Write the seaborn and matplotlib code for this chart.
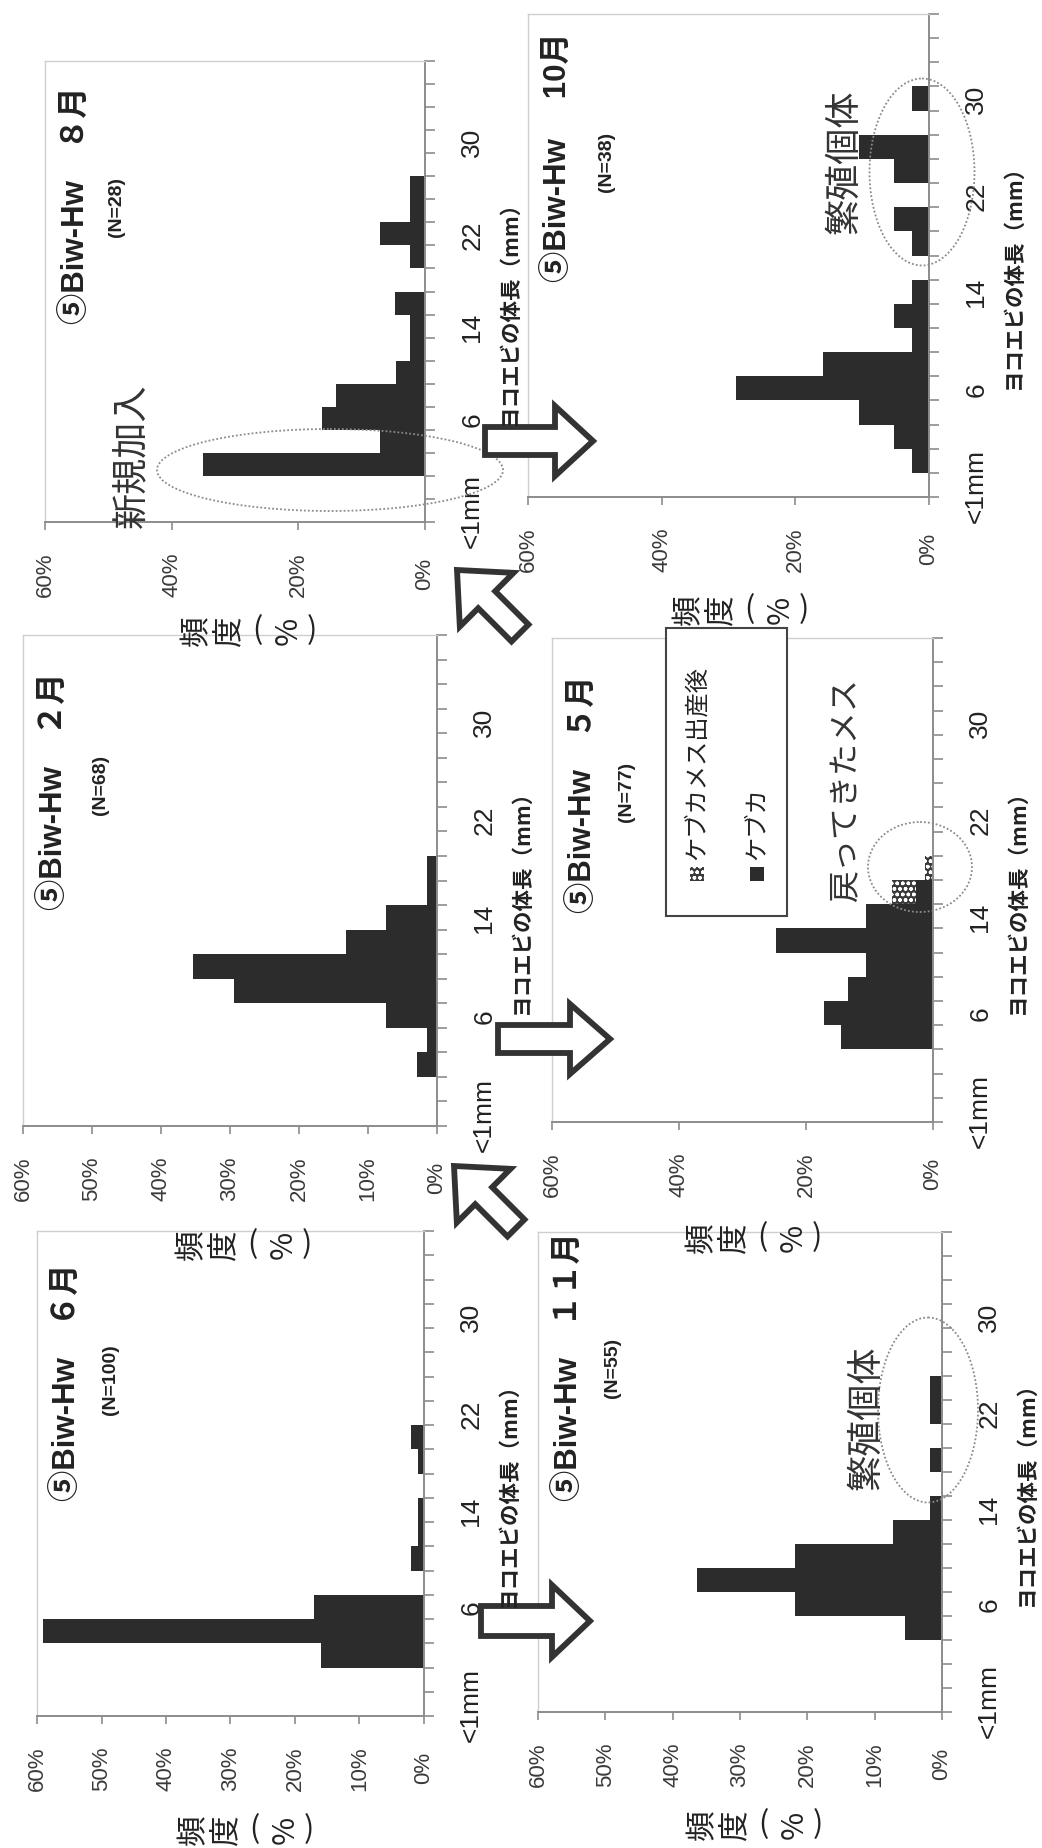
import numpy as np
import pandas as pd
import matplotlib
matplotlib.use("Agg")
import matplotlib.pyplot as plt
import seaborn as sns
from matplotlib.patches import Ellipse, Polygon, Rectangle

sns.set_theme(style="white")
plt.rcParams["font.family"] = ["Liberation Sans", "Noto Sans CJK JP"]

W, H = 1042, 1849
DPI = 100

# body-length classes (category axis) and the classes that carry a label
size_bins = ["<1mm", "1", "2", "4", "6", "8", "10", "12", "14", "16",
             "18", "20", "22", "24", "26", "28", "30", "32", "34", "36"]
labelled_bins = ["<1mm", "6", "14", "22", "30"]

# frequency (%) per size class
freq_aug = [0, 0, 35.0, 7.1, 16.3, 14.1, 4.6, 2.4, 2.4, 4.7,
            0, 2.4, 7.1, 2.4, 2.4, 0, 0, 0, 0, 0]
freq_oct = [0, 2.6, 5.3, 10.5, 28.9, 15.8, 2.6, 5.3, 2.6, 0,
            2.6, 5.3, 0, 5.3, 10.5, 0, 2.6, 0, 0, 0]
freq_feb = [0, 0, 2.9, 1.5, 7.4, 29.4, 35.3, 13.2, 7.4, 1.5,
            1.5, 0, 0, 0, 0, 0, 0, 0, 0, 0]
freq_may = [0, 0, 0, 14.5, 17.2, 13.4, 10.6, 24.8, 10.6, 2.6,
            0, 0, 0, 0, 0, 0, 0, 0, 0, 0]
freq_may_after = [0, 0, 0, 0, 0, 0, 0, 0, 0, 3.9,
                  1.3, 0, 0, 0, 0, 0, 0, 0, 0, 0]
freq_jun = [0, 0, 16, 59, 17, 0, 2, 1, 1, 0,
            1, 2, 0, 0, 0, 0, 0, 0, 0, 0]
freq_nov = [0, 0, 0, 5.5, 21.8, 36.4, 21.8, 7.3, 1.8, 0,
            1.8, 0, 1.8, 1.8, 0, 0, 0, 0, 0, 0]

titles = {"aug": "⑤Biw-Hw　８月", "oct": "⑤Biw-Hw　 10月", "feb": "⑤Biw-Hw　２月",
          "may": "⑤Biw-Hw　５月", "jun": "⑤Biw-Hw　６月", "nov": "⑤Biw-Hw　１１月"}
sample_sizes = {"aug": "(N=28)", "oct": "(N=38)", "feb": "(N=68)",
                "may": "(N=77)", "jun": "(N=100)", "nov": "(N=55)"}
legend_labels = ["ケブカメス出産後", "ケブカ"]

BAR = "#2c2c2c"
AXC = "#8c8c8c"
FRAME = "#cfcfcf"
TXT = "#222222"

# panel geometry in pixels: (x of 60%, x of 0%, top, bottom) and text anchors
layout = [
    dict(key="aug", vals=freq_aug, box=(45, 425, 62, 523), step=20,
         title_xy=(76, 205), n_xy=(117, 207), freq_xy=(250, 631)),
    dict(key="oct", vals=freq_oct, box=(528, 929, 15, 498), step=20,
         title_xy=(558, 157), n_xy=(607, 162), freq_xy=(742, 610)),
    dict(key="feb", vals=freq_feb, box=(23, 437, 636, 1127), step=10,
         title_xy=(54, 791), n_xy=(100, 785), freq_xy=(245, 1245)),
    dict(key="may", vals=freq_may, box=(552, 933, 639, 1123), step=20,
         title_xy=(583, 794), n_xy=(627, 792), freq_xy=(755, 1238)),
    dict(key="jun", vals=freq_jun, box=(37, 424, 1232, 1717), step=10,
         title_xy=(67, 1382), n_xy=(110, 1380), freq_xy=(247, 1830)),
    dict(key="nov", vals=freq_nov, box=(538, 942, 1233, 1713), step=10,
         title_xy=(569, 1367), n_xy=(612, 1368), freq_xy=(756, 1825)),
]

fig = plt.figure(figsize=(W / DPI, H / DPI), dpi=DPI)
fig.patch.set_facecolor("white")


def add_panel(cfg):
    left, right, top, bottom = cfg["box"]
    ax = fig.add_axes([left / W, 1 - bottom / H, (right - left) / W, (bottom - top) / H])
    df = pd.DataFrame({"size": size_bins, "freq": cfg["vals"]})
    if cfg["key"] == "may":
        total = [a + b for a, b in zip(freq_may, freq_may_after)]
        dft = pd.DataFrame({"size": size_bins, "freq": total})
        sns.barplot(data=dft, x="freq", y="size", order=size_bins, orient="h",
                    width=1.0, color="#3a3a3a", saturation=1, linewidth=0,
                    edgecolor="white", hatch="ooo", ax=ax)
    sns.barplot(data=df, x="freq", y="size", order=size_bins, orient="h",
                width=1.0, color=BAR, saturation=1, linewidth=0, ax=ax)
    ax.set_xlim(60, 0)
    ax.set_ylim(-0.5, len(size_bins) - 0.5)
    ax.set_xlabel("")
    ax.set_ylabel("")
    ax.set_facecolor("white")

    # category axis on the right
    pos = [size_bins.index(b) for b in labelled_bins]
    ax.set_yticks(pos)
    ax.set_yticklabels(labelled_bins, rotation=90, ha="center", va="center",
                       fontsize=19, color=TXT)
    ax.set_yticks(np.arange(-0.5, len(size_bins), 1.0), minor=True)
    ax.tick_params(axis="y", which="both", left=False, right=True,
                   labelleft=False, labelright=True)
    ax.tick_params(axis="y", which="major", length=0, pad=34)
    ax.tick_params(axis="y", which="minor", length=7, width=1.2,
                   color=AXC, direction="out")

    # frequency axis at the bottom
    xt = list(range(0, 61, cfg["step"]))
    ax.set_xticks(xt)
    ax.set_xticklabels([f"{v}%" for v in xt], rotation=90, ha="center",
                       va="center", fontsize=16, color="#3a3a3a")
    ax.tick_params(axis="x", which="major", bottom=True, length=6, width=1.2,
                   color=AXC, direction="out", pad=31)

    for side in ("left", "top"):
        ax.spines[side].set_color(FRAME)
        ax.spines[side].set_linewidth(1.0)
    for side in ("right", "bottom"):
        ax.spines[side].set_color(AXC)
        ax.spines[side].set_linewidth(1.4)
    ax.grid(False)
    return ax


for cfg in layout:
    add_panel(cfg)

# overlay in pixel coordinates for titles, notes and arrows
ov = fig.add_axes([0, 0, 1, 1], zorder=10)
ov.set_xlim(0, W)
ov.set_ylim(H, 0)
ov.axis("off")
ov.patch.set_alpha(0)

char_offsets = [-53, -21, 7, 38, 62]
freq_chars = ["頻", "度", "(", "%", ")"]

for cfg in layout:
    left, right, top, bottom = cfg["box"]
    k = cfg["key"]
    tx, ty = cfg["title_xy"]
    ov.text(tx, ty, titles[k], rotation=90, ha="center", va="center",
            fontsize=22.5, fontweight="bold", color=TXT)
    nx, ny = cfg["n_xy"]
    ov.text(nx, ny, sample_sizes[k], rotation=90, ha="center", va="center",
            fontsize=14, fontweight="bold", color=TXT)
    # category axis title
    ov.text(right + 84, (top + bottom) / 2 + 15, "ヨコエビの体長（mm）",
            rotation=90, ha="center", va="center", fontsize=15.5,
            fontweight="bold", color=TXT, family=["Noto Sans CJK JP"])
    # frequency axis title, written vertically in the original orientation
    fx, fy = cfg["freq_xy"]
    for ch, off in zip(freq_chars, char_offsets):
        rot = 0 if ch in "()" else 90
        ov.text(fx + off, fy, ch, rotation=rot, ha="center", va="center",
                fontsize=22, color=TXT, family=["Noto Sans CJK JP"])

# notes and dotted ellipses
notes = [
    ("新規加入", (131, 456), 26, (330, 471, 346, 82)),
    ("繁殖個体", (844, 162), 26, (922, 173, 105, 187)),
    ("繁殖個体", (866, 1418), 26, (928, 1411, 100, 185)),
    ("戻ってきたメス", (846, 790), 23, (920, 868, 104, 90)),
]
for text, (x, y), fs, (ex, ey, ew, eh) in notes:
    ov.text(x, y, text, rotation=90, ha="center", va="center", fontsize=fs,
            color="#333333", family=["Noto Sans CJK JP"])
    ov.add_patch(Ellipse((ex, ey), ew, eh, fill=False, edgecolor="#8a8a8a",
                         linestyle=(0, (1, 1.2)), linewidth=1.3))

# legend of the May panel
ov.add_patch(Rectangle((666, 629), 121, 288, facecolor="white",
                       edgecolor="#444444", linewidth=1.5))
ov.add_patch(Rectangle((690, 868), 14, 14, facecolor="#3a3a3a",
                       edgecolor="white", hatch="ooo", linewidth=0))
ov.add_patch(Rectangle((750, 868), 14, 14, facecolor=BAR, linewidth=0))
ov.text(697, 860, legend_labels[0], rotation=90, ha="center", va="bottom",
        fontsize=17.5, color=TXT, family=["Noto Sans CJK JP"])
ov.text(757, 860, legend_labels[1], rotation=90, ha="center", va="bottom",
        fontsize=17.5, color=TXT, family=["Noto Sans CJK JP"])


def block_arrow(tail, tip, shaft, head, head_len):
    tail = np.asarray(tail, float)
    tip = np.asarray(tip, float)
    u = (tip - tail) / np.linalg.norm(tip - tail)
    n = np.array([-u[1], u[0]])
    base = tip - u * head_len
    pts = [tail + n * shaft, base + n * shaft, base + n * head, tip,
           base - n * head, base - n * shaft, tail - n * shaft]
    ov.add_patch(Polygon(pts, closed=True, facecolor="white",
                         edgecolor="#333333", linewidth=4.2, joinstyle="miter"))


block_arrow((485, 442), (593, 442), 14, 35, 38)
block_arrow((498, 1040), (610, 1040), 14, 35, 40)
block_arrow((481, 1622), (590, 1622), 15, 36, 38)
block_arrow((520, 634), (457, 571), 12, 38, 42)
block_arrow((516, 1229), (454, 1167), 12, 38, 42)

fig.savefig("out.png", dpi=DPI, facecolor="white")
